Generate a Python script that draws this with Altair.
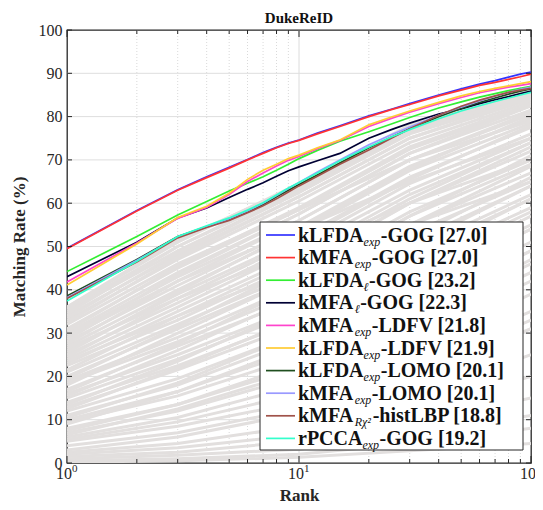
import altair as alt
import pandas as pd

# ---------------- data ----------------
RANKS = [1, 2, 3, 4, 5, 6, 7, 8, 9, 10, 12, 15, 20, 25, 30, 40, 50, 60, 70, 80, 90, 100]

blue_kLFDA_exp_GOG = [49.6, 58.3, 63.1, 66.1, 68.3, 70.1, 71.7, 72.9, 73.9, 74.6, 76.2, 77.9, 80.2, 81.7, 83.0, 85.0, 86.4, 87.5, 88.3, 89.1, 89.8, 90.3]
red_kMFA_exp_GOG = [49.5, 58.2, 63.0, 65.9, 68.1, 70.0, 71.5, 72.8, 73.8, 74.5, 76.0, 77.7, 80.0, 81.6, 82.8, 84.8, 86.1, 87.2, 87.9, 88.6, 89.2, 89.8]
green_kLFDA_l_GOG = [44.2, 52.3, 57.3, 60.4, 62.8, 64.6, 66.1, 67.6, 69.0, 70.3, 72.2, 74.3, 76.5, 78.3, 79.8, 82.0, 83.4, 84.5, 85.3, 86.0, 86.5, 87.0]
black_kMFA_l_GOG = [43.0, 51.0, 56.6, 58.9, 61.3, 63.2, 64.7, 66.2, 67.5, 68.4, 69.8, 71.5, 75.0, 77.0, 78.5, 80.6, 81.8, 83.0, 83.9, 84.6, 85.3, 85.9]
magenta_kMFA_exp_LDFV = [41.8, 50.8, 56.5, 59.0, 62.0, 65.0, 67.0, 68.6, 69.9, 70.8, 72.6, 74.5, 77.7, 79.6, 81.0, 83.0, 84.4, 85.5, 86.2, 86.8, 87.2, 87.6]
yellow_kLFDA_exp_LDFV = [41.1, 50.6, 56.7, 59.3, 62.3, 65.5, 67.6, 69.0, 70.3, 71.1, 72.8, 74.6, 78.1, 79.9, 81.3, 83.3, 84.8, 85.8, 86.5, 87.1, 87.6, 88.1]
dkgreen_kLFDA_exp_LOMO = [38.6, 47.0, 52.3, 54.6, 56.3, 58.0, 59.7, 61.5, 63.0, 64.3, 66.5, 69.3, 72.8, 75.2, 77.2, 80.0, 81.9, 83.3, 84.3, 85.2, 85.9, 86.4]
lavender_kMFA_exp_LOMO = [38.2, 46.8, 52.2, 54.6, 56.4, 58.2, 60.0, 61.8, 63.4, 64.8, 67.2, 70.0, 73.5, 75.8, 77.6, 80.3, 82.2, 83.6, 84.7, 85.6, 86.3, 86.8]
brown_kMFA_Rchi2_histLBP = [38.0, 46.4, 52.0, 54.4, 56.0, 57.8, 59.4, 61.0, 62.6, 64.0, 66.2, 69.0, 72.3, 75.0, 77.2, 80.3, 82.4, 83.8, 84.8, 85.6, 86.1, 86.5]
cyan_rPCCA_exp_GOG = [37.4, 46.6, 52.3, 54.8, 56.6, 58.4, 60.1, 61.9, 63.5, 64.8, 67.0, 69.8, 73.0, 75.3, 77.0, 79.5, 81.3, 82.5, 83.5, 84.3, 85.0, 85.6]

SERIES = [blue_kLFDA_exp_GOG, red_kMFA_exp_GOG, green_kLFDA_l_GOG, black_kMFA_l_GOG,
          magenta_kMFA_exp_LDFV, yellow_kLFDA_exp_LDFV, dkgreen_kLFDA_exp_LOMO,
          lavender_kMFA_exp_LOMO, brown_kMFA_Rchi2_histLBP, cyan_rPCCA_exp_GOG]
COLORS = ["#3333ff", "#ff3333", "#33ee33", "#000033", "#ff44cc",
          "#ffcc33", "#1f4f1f", "#9999ff", "#a0524a", "#33ffcc"]
# legend label parts: (main, subscript, rest)
LABELS = [("kLFDA", "exp", "-GOG [27.0]"), ("kMFA", "exp", "-GOG [27.0]"),
          ("kLFDA", "ℓ", "-GOG [23.2]"), ("kMFA", "ℓ", "-GOG [22.3]"),
          ("kMFA", "exp", "-LDFV [21.8]"), ("kLFDA", "exp", "-LDFV [21.9]"),
          ("kLFDA", "exp", "-LOMO [20.1]"), ("kMFA", "exp", "-LOMO [20.1]"),
          ("kMFA", "Rχ²", "-histLBP [18.8]"), ("rPCCA", "exp", "-GOG [19.2]")]
TITLE = "DukeReID"

# background (other methods) curves: values at these ranks
GRAY_RANKS = [1, 3, 10, 30, 100]
GRAY_CURVES = [
    [36, 51, 64.5, 78, 85.5], [35.5, 50, 63.5, 77, 85], [35, 49, 62.5, 76, 84.5], [34, 48, 61.5, 75, 84],
    [33, 47, 60.5, 74, 83.5], [31, 45, 58.5, 72.5, 82.5], [30, 44, 57.5, 71.5, 81.5], [29.5, 43, 56, 70, 80.5],
    [28, 41, 54.5, 68.5, 79.5], [27, 40, 53.5, 67.5, 78.5], [26, 39, 52, 66, 77.5], [25, 37, 50.5, 64.5, 76],
    [24, 36, 49.5, 63, 75], [23, 35, 48, 62, 74], [22.5, 33, 46, 60, 72], [21, 32, 44, 58, 70],
    [20, 31, 43, 57, 69], [19, 29, 41, 55, 67], [18.5, 28, 39.5, 53, 65], [17, 27, 38, 51, 64],
    [16, 25, 36, 49, 62], [15, 24, 35, 48, 61], [14, 22.5, 33, 46, 59], [13, 21.5, 32, 45, 58],
    [12, 19.5, 30, 42, 55], [11, 18, 28.5, 41, 54], [10, 16.5, 26, 38, 51], [9.5, 15.5, 24.5, 36, 49],
    [8, 13.5, 22, 33, 46], [7, 12, 20, 31, 44], [6, 10.5, 18, 29, 42], [5.5, 9.5, 16, 26, 39],
    [5, 8.5, 14, 23, 35], [2.5, 4.5, 8.5, 15, 25], [2, 3.5, 6.5, 12, 20], [1.5, 2.5, 5, 9, 15],
    [1, 1.8, 3.2, 6.5, 11], [0.5, 1, 2, 4.5, 8], [0.2, 0.5, 1.3, 2.8, 4.5],
    [33.5, 48.5, 62.5, 76.5, 85], [30.5, 45.5, 59, 73, 83], [27.5, 42, 56, 70, 81], [24.5, 38, 51.5, 65.5, 78],
    [21.5, 34, 47, 61, 74], [18, 30, 43, 57, 71], [15.5, 26, 38.5, 52, 66], [12.5, 22, 33.5, 47, 61],
    [9, 16.5, 27, 40, 54], [6.5, 12.5, 21, 32.5, 47], [3, 6, 11.5, 20, 31], [4, 7, 12.5, 21, 33],
    [32, 46, 58.5, 70, 79], [29, 42, 54, 65, 75], [26.5, 38, 49, 60, 70], [23.5, 34, 45, 55, 65],
    [36, 51.5, 64, 77.5, 85.5], [34.5, 50, 63, 76.5, 85], [32.5, 47.5, 61.5, 75, 84.5],
    [28.5, 43.5, 57.5, 71.5, 82.5], [25.5, 39.5, 54, 68, 80], [19.5, 31.5, 45.5, 60, 73],
    [16.5, 27.5, 41, 55, 68.5], [13.5, 23.5, 36, 50, 64], [10.5, 18.5, 30, 43, 57], [7.5, 13.5, 23, 35, 49],
]

X_MAJOR = [1, 10, 100]
X_MINOR = [2, 3, 4, 5, 6, 7, 8, 9, 20, 30, 40, 50, 60, 70, 80, 90]
Y_TICKS = [0, 10, 20, 30, 40, 50, 60, 70, 80, 90, 100]
X_SUP = ["0", "1", "2"]

# ---------------- layout ----------------
W, H = 464, 433
FONT = "Liberation Serif"
AX = "#262626"
GRAY = "#e2dfde"

xs = alt.Scale(type="log", domain=[1, 100], nice=False)
ys = alt.Scale(domain=[0, 100], nice=False)
x_axis = alt.Axis(title="Rank", labels=False, ticks=False, domain=False, grid=False,
                  titleFont=FONT, titleFontSize=17, titleFontWeight="bold",
                  titleColor=AX, titlePadding=24)
y_axis = alt.Axis(values=Y_TICKS, ticks=False, domain=False, grid=False,
                  labelFont=FONT, labelFontSize=16, labelColor=AX, labelPadding=5,
                  title="Matching Rate (%)", titleFont=FONT, titleFontSize=17,
                  titleFontWeight="bold", titleColor=AX, titlePadding=10)
X = alt.X("rank:Q", scale=xs, axis=x_axis)
Y = alt.Y("rate:Q", scale=ys, axis=y_axis)

one = pd.DataFrame({"a": [0]})
layers = []

# grid
minor_df = pd.DataFrame({"rank": X_MINOR})
layers.append(alt.Chart(minor_df).mark_rule(color="#cfcfcf", strokeDash=[1, 2], strokeWidth=0.8)
              .encode(x=X, y=alt.value(0), y2=alt.value(H)))
layers.append(alt.Chart(pd.DataFrame({"rank": [10]})).mark_rule(color="#dcdcdc", strokeWidth=1)
              .encode(x=X, y=alt.value(0), y2=alt.value(H)))
ygrid_df = pd.DataFrame({"rate": Y_TICKS[1:-1]})
layers.append(alt.Chart(ygrid_df).mark_rule(color="#dedede", strokeWidth=1)
              .encode(y=Y, x=alt.value(0), x2=alt.value(W)))

# gray background curves
rows = []
for i, c in enumerate(GRAY_CURVES):
    for r, v in zip(GRAY_RANKS, c):
        rows.append({"id": i, "rank": r, "rate": v})
gdf = pd.DataFrame(rows)
layers.append(alt.Chart(gdf).mark_line(color=GRAY, strokeWidth=3, clip=True)
              .encode(x=X, y=Y, detail="id:N"))

# coloured curves
for vals, col in zip(SERIES, COLORS):
    df = pd.DataFrame({"rank": RANKS, "rate": vals})
    layers.append(alt.Chart(df).mark_line(color=col, strokeWidth=1.7, clip=True)
                  .encode(x=X, y=Y))

# inside ticks
maj_df = pd.DataFrame({"rank": X_MAJOR})
layers.append(alt.Chart(minor_df).mark_rule(color=AX).encode(x=X, y=alt.value(H), y2=alt.value(H - 4)))
layers.append(alt.Chart(minor_df).mark_rule(color=AX).encode(x=X, y=alt.value(0), y2=alt.value(4)))
layers.append(alt.Chart(maj_df).mark_rule(color=AX).encode(x=X, y=alt.value(H), y2=alt.value(H - 7)))
layers.append(alt.Chart(maj_df).mark_rule(color=AX).encode(x=X, y=alt.value(0), y2=alt.value(7)))
yt_df = pd.DataFrame({"rate": Y_TICKS})
layers.append(alt.Chart(yt_df).mark_rule(color=AX).encode(y=Y, x=alt.value(0), x2=alt.value(5)))
layers.append(alt.Chart(yt_df).mark_rule(color=AX).encode(y=Y, x=alt.value(W), x2=alt.value(W - 5)))

# x tick labels 10^k
xl_df = pd.DataFrame({"rank": X_MAJOR, "sup": X_SUP})
layers.append(alt.Chart(xl_df).mark_text(text="10", font=FONT, fontSize=16, color=AX,
                                         align="right", baseline="alphabetic", dx=5)
              .encode(x=X, y=alt.value(H + 16)))
layers.append(alt.Chart(xl_df).mark_text(font=FONT, fontSize=11, color=AX,
                                         align="left", baseline="alphabetic", dx=5)
              .encode(x=X, y=alt.value(H + 9), text="sup:N"))

# chart title
layers.append(alt.Chart(one).mark_text(text=TITLE, font=FONT, fontSize=15, fontWeight="bold",
                                       color="#111111", align="center", baseline="alphabetic")
              .encode(x=alt.value(W / 2), y=alt.value(-7)))

# legend (manual, to allow subscripts)
TB = {'k': 556, 'L': 667, 'F': 611, 'D': 722, 'A': 722, 'M': 944, 'r': 444, 'P': 611,
      'C': 722, '-': 333, 'G': 778, 'O': 778, ' ': 250, '[': 333, ']': 333, '.': 250,
      'V': 722, 'h': 556, 'i': 278, 's': 389, 't': 333, 'B': 667}
TI = {'e': 444, 'x': 444, 'p': 500, 'ℓ': 420, 'R': 611, 'χ': 550, '²': 300}


def tw(s, table, size):
    return sum(table.get(ch, 500) for ch in s) * size / 1000.0


LFS, SFS = 20, 12
BX0, BX1, BY0, BY1 = 193, 456, 192, 420
ROW0, DROW = 205, 22.6
LX0, LX1, TX = 199, 228, 231

layers.append(alt.Chart(one).mark_rect(fill="white", stroke=AX, strokeWidth=1)
              .encode(x=alt.value(BX0), x2=alt.value(BX1), y=alt.value(BY0), y2=alt.value(BY1)))
for i, ((main, sub, rest), col) in enumerate(zip(LABELS, COLORS)):
    yc = ROW0 + DROW * i
    base = yc + 6.5
    layers.append(alt.Chart(one).mark_rule(color=col, strokeWidth=1.7)
                  .encode(x=alt.value(LX0), x2=alt.value(LX1), y=alt.value(yc)))
    x1 = TX + tw(main, TB, LFS)
    x2 = x1 + tw(sub, TI, SFS) + 0.5
    layers.append(alt.Chart(one).mark_text(text=main, font=FONT, fontSize=LFS, fontWeight="bold",
                                           color="#111111", align="left", baseline="alphabetic")
                  .encode(x=alt.value(TX), y=alt.value(base)))
    layers.append(alt.Chart(one).mark_text(text=sub, font=FONT, fontSize=SFS, fontStyle="italic",
                                           color="#111111", align="left", baseline="alphabetic")
                  .encode(x=alt.value(x1), y=alt.value(base + 4)))
    layers.append(alt.Chart(one).mark_text(text=rest, font=FONT, fontSize=LFS, fontWeight="bold",
                                           color="#111111", align="left", baseline="alphabetic")
                  .encode(x=alt.value(x2), y=alt.value(base)))

chart = (
    alt.layer(*layers)
    .properties(
        width=W, height=H,
        autosize=alt.AutoSizeParams(type="none"),
        padding={"left": 59, "top": 22, "right": 4, "bottom": 40},
    )
    .configure_view(stroke=AX, strokeWidth=1.3)
)

chart.save("out.html", embed_options={"renderer": "svg", "actions": False})
